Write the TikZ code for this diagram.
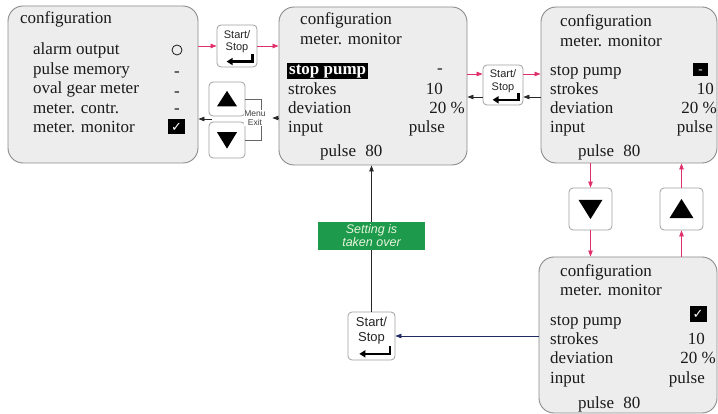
\documentclass[tikz,border=0pt]{standalone}
\usepackage{fontspec}
\setmainfont{Liberation Serif}
\setsansfont{Liberation Sans}
\newfontfamily\djv{DejaVu Sans}
\usetikzlibrary{fit,calc,arrows.meta}
\definecolor{panelfill}{HTML}{EDEDED}
\definecolor{panelline}{HTML}{8A8A8A}
\definecolor{btnline}{HTML}{A0A0A0}
\definecolor{redarr}{HTML}{E0306A}
\definecolor{navyarr}{HTML}{202A60}
\definecolor{greenbox}{HTML}{1E9A4C}
\definecolor{greentext}{HTML}{E6F4DC}
\definecolor{txt}{HTML}{1A1A1A}
\tikzset{
 panel/.style={draw=panelline, fill=panelfill, line width=0.9pt, rounded corners=15pt, inner sep=0pt},
 btn/.style={draw=btnline, fill=white, line width=0.8pt, rounded corners=4pt, inner sep=0pt},
 lbl/.style={anchor=base west, inner sep=0pt, text=txt, font=\fontsize{17}{20}\selectfont},
 rlbl/.style={lbl, anchor=base east},
 dashlbl/.style={lbl, anchor=base},
 sstext/.style={align=center, inner sep=0pt, text=black!85},
 enterline/.style={line width=2.3pt, -{Triangle[length=6pt,width=7pt]}},
 conn/.style={line width=0.7pt, -{Triangle[length=6pt,width=4.5pt]}},
 redc/.style={conn, draw=redarr},
 blkc/.style={conn, draw=black!85},
 navyc/.style={conn, draw=navyarr},
 blackbox/.style={fill=black, inner sep=0pt, text=white}
}
% Start/Stop button: name, x1, y1, x2, y2, font size, baselineskip
\newcommand{\ssbtn}[7]{%
 \node[btn, fit={(#2,#3) (#4,#5)}] (#1) {};
 \node[sstext, font=\sffamily\fontsize{#6}{#7}\selectfont] (#1-t) at ($(#1.north)!0.4!(#1.south)$) {Start/\\Stop};
 \draw[enterline] ($(#1.north west)+({0.9*(#4-#2)},{0.71*(#5-#3)})$) |- ($(#1.north west)+({0.25*(#4-#2)},{0.88*(#5-#3)})$);
}
% triangle button: name, x1, y1, x2, y2, dir (1 up, -1 down)
\newcommand{\tribtn}[6]{%
 \node[btn, fit={(#2,#3) (#4,#5)}] (#1) {};
 \fill ($(#1.center)+({-0.28*(#4-#2)},{(#6)*0.22*(#5-#3)})$) -- ($(#1.center)+({0.28*(#4-#2)},{(#6)*0.22*(#5-#3)})$) -- ($(#1.center)+(0,{-1*(#6)*0.24*(#5-#3)})$) -- cycle;
}
\begin{document}
\begin{tikzpicture}[x=1pt,y=-1pt]
\useasboundingbox (0,0) rectangle (718,414);
\clip (0,0) rectangle (718,414);
% panels
\node[panel, fit={(8,6) (198,163)}] (B1) {};
\node[panel, fit={(279,7) (467,165)}] (B2) {};
\node[panel, fit={(541,7) (717,163)}] (B3) {};
\node[panel, fit={(539,257) (717,413)}] (B4) {};
% panel 1
\node[lbl] (b1h) at (20,24) {configuration};
\node[lbl] (b1a) at (33,55) {alarm output};
\node[lbl] (b1b) at (33,74.5) {pulse memory};
\node[lbl] (b1c) at (33,94) {oval gear meter};
\node[lbl] (b1d) at (33,113.5) {meter. contr.};
\node[lbl] (b1e) at (33,133) {meter. monitor};
\node[draw=txt, circle, minimum size=10pt, inner sep=0pt, line width=0.8pt] (b1o) at (177,50) {};
\node[dashlbl] (b1m1) at (177,77) {-};
\node[dashlbl] (b1m2) at (177,96.5) {-};
\node[dashlbl] (b1m3) at (177,114) {-};
\node[blackbox, minimum width=17pt, minimum height=15pt, font=\djv\fontsize{13}{13}\selectfont] (b1k) at (176.5,127) {✓};
% panel 2
\node[lbl] (b2h) at (300,25) {configuration};
\node[lbl] (b2s) at (300,45) {meter. monitor};
\node[lbl, fill=black, text=white, font=\bfseries\fontsize{17}{20}\selectfont, inner xsep=2pt, inner ysep=1pt, text height=11pt, text depth=3pt] (b2a) at (287,75) {stop pump};
\node[lbl] (b2b) at (288,95) {strokes};
\node[lbl] (b2c) at (288,114) {deviation};
\node[lbl] (b2d) at (288,133) {input};
\node[lbl] (b2e) at (320,157) {pulse\hspace{5pt} 80};
\node[dashlbl] (b2av) at (440,74) {-};
\node[rlbl] (b2bv) at (443,95) {10};
\node[rlbl] (b2cv) at (465,114) {20 \%};
\node[rlbl] (b2dv) at (445,133) {pulse};
% panel 3
\node[lbl] (b3h) at (560,27) {configuration};
\node[lbl] (b3s) at (560,47) {meter. monitor};
\node[lbl] (b3a) at (550,76) {stop pump};
\node[lbl] (b3b) at (550,95) {strokes};
\node[lbl] (b3c) at (550,114) {deviation};
\node[lbl] (b3d) at (550,133) {input};
\node[lbl] (b3e) at (578,157) {pulse\hspace{5pt} 80};
\node[blackbox, minimum width=15pt, minimum height=13pt, text height=3pt, text depth=3pt, font=\fontsize{13}{13}\selectfont] (b3av) at (700.5,70) {\raisebox{-4pt}{-}};
\node[rlbl] (b3bv) at (714,95) {10};
\node[rlbl] (b3cv) at (717,114) {20 \%};
\node[rlbl] (b3dv) at (713,133) {pulse};
% panel 4
\node[lbl] (b4h) at (560,277) {configuration};
\node[lbl] (b4s) at (560,296) {meter. monitor};
\node[lbl] (b4a) at (550,326) {stop pump};
\node[lbl] (b4b) at (550,344) {strokes};
\node[lbl] (b4c) at (550,363) {deviation};
\node[lbl] (b4d) at (550,383) {input};
\node[lbl] (b4e) at (578,408) {pulse\hspace{5pt} 80};
\node[blackbox, minimum width=17pt, minimum height=16pt, font=\djv\fontsize{13}{13}\selectfont] (b4av) at (698,314) {✓};
\node[rlbl] (b4bv) at (705,344) {10};
\node[rlbl] (b4cv) at (716,363) {20 \%};
\node[rlbl] (b4dv) at (705,383) {pulse};
% buttons
\ssbtn{SS1}{217}{25}{257}{67}{11}{12.5}
\ssbtn{SS2}{483}{65}{523}{105}{11}{12.5}
\ssbtn{SS3}{348}{312}{395}{360}{13}{15}
\tribtn{UP1}{209}{82}{245}{116}{1}
\tribtn{DN1}{209}{122}{245}{158}{-1}
\tribtn{DN2}{569}{188}{612}{230}{-1}
\tribtn{UP2}{660}{188}{703}{230}{1}
% connectors
\draw[redc] (B1.east |- SS1.west) -- (SS1.west);
\draw[redc] (SS1.east) -- (SS1.east -| B2.west);
\draw[line width=0.7pt, draw=black!60] (UP1.east) -- ++(16,0) |- (DN1.east);
\node[fill=white, inner sep=0.6pt, align=center, text=black!75, font=\sffamily\fontsize{8.5}{9.5}\selectfont] (menu) at (255,118) {Menu\\Exit};
\draw[blkc] (B2.west |- menu.east) -- ([xshift=6pt]menu.east);
\coordinate (mx) at ($(UP1.south west)!0.5!(DN1.north west)$);
\draw[blkc] ([xshift=3pt]mx) -- (mx -| B1.east);
\coordinate (s2a) at ($(SS2.west)+(0,-11)$);
\coordinate (s2b) at ($(SS2.east)+(0,-11)$);
\coordinate (s2c) at ($(SS2.east)+(0,12)$);
\coordinate (s2d) at ($(SS2.west)+(0,12)$);
\draw[redc] (s2a -| B2.east) -- (s2a);
\draw[redc] (s2b) -- (s2b -| B3.west);
\draw[blkc] (s2c -| B3.west) -- (s2c);
\draw[blkc] (s2d) -- (s2d -| B2.east);
\draw[redc] (DN2.north |- B3.south) -- (DN2.north);
\draw[redc] (DN2.south) -- (DN2.south |- B4.north);
\draw[redc] (UP2.north) -- (UP2.north |- B3.south);
\draw[redc] (UP2.south |- B4.north) -- (UP2.south);
\draw[navyc] (B4.west |- SS3.east) -- (SS3.east);
\draw[blkc] (SS3.north) -- (SS3.north |- B2.south);
\node[fill=greenbox, text=greentext, align=center, minimum width=107pt, minimum height=28pt, inner sep=0pt, font=\sffamily\itshape\fontsize{12.5}{13}\selectfont] (G) at (371.5,236) {Setting is\\taken over};
\end{tikzpicture}
\end{document}
